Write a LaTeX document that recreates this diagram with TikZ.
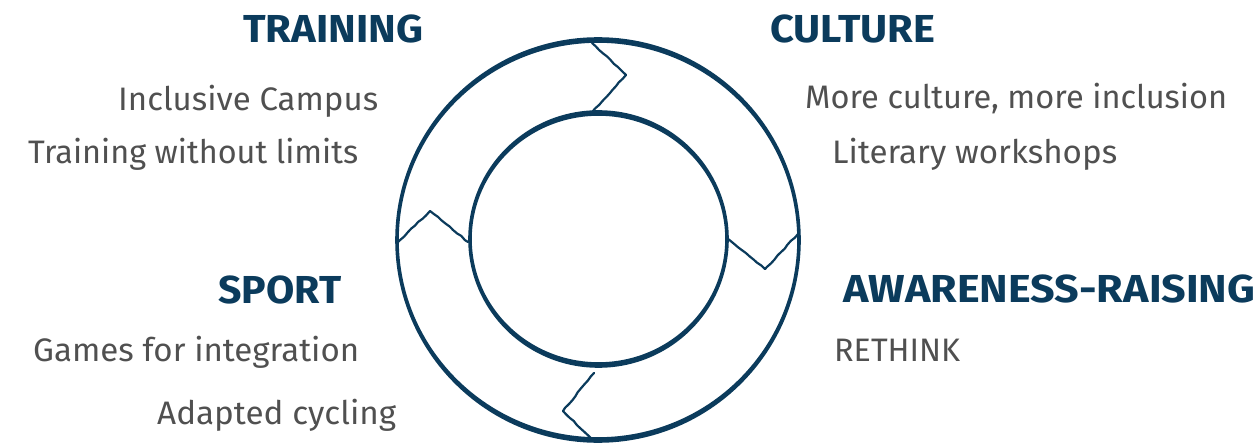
\documentclass[tikz,border=0pt]{standalone}
\usepackage{fontspec}
\setmainfont{Fira Sans}
\usetikzlibrary{decorations.pathmorphing}
\definecolor{ringblue}{HTML}{0B3B5C}
\definecolor{bodygray}{HTML}{505050}
% scale a label horizontally to a given width, keeping its height
\newcommand\fitto[2]{\resizebox{#1}{\height}{#2}}
\begin{document}
\begin{tikzpicture}[x=1pt,y=-1pt,
  heading/.style={anchor=base west, inner sep=0pt, text=ringblue,
    font=\bfseries\fontsize{39}{39}\selectfont},
  item/.style={anchor=base west, inner sep=0pt, text=bodygray,
    font=\fontsize{32.5}{32.5}\selectfont},
  joint/.style={draw=ringblue, line width=2.2pt, line join=round, line cap=round,
    decorate, decoration={random steps, segment length=5pt, amplitude=0.5pt}}]
\useasboundingbox (0,0) rectangle (1259,444);
\pgfmathsetseed{7}

% ring: two brushed circles, thicker at top and bottom
\fill[ringblue, even odd rule]
  (598,240) ellipse [x radius=202.8pt, y radius=202.8pt]
  (598,240) ellipse [x radius=199.2pt, y radius=197.2pt];
\fill[ringblue, even odd rule]
  (598.5,239) ellipse [x radius=130.3pt, y radius=128.8pt]
  (598.5,239) ellipse [x radius=126.7pt, y radius=123.2pt];

% chevron joints between the four clockwise arrows
\coordinate (topO) at (592,43);  \coordinate (topT) at (626,75);  \coordinate (topI) at (593,111);
\coordinate (lftO) at (397,243); \coordinate (lftT) at (430,211); \coordinate (lftI) at (468,242);
\coordinate (rgtO) at (798,234); \coordinate (rgtT) at (765,269); \coordinate (rgtI) at (728,239);
\coordinate (botI) at (594,373); \coordinate (botT) at (563,411); \coordinate (botO) at (595,442);
\draw[joint] (topO) -- (topT) -- (topI);
\draw[joint] (lftO) -- (lftT) -- (lftI);
\draw[joint] (rgtO) -- (rgtT) -- (rgtI);
\draw[joint] (botI) -- (botT) -- (botO);

% headings
\node[heading] (training) at (243,43)  {\fitto{180pt}{TRAINING}};
\node[heading] (culture)  at (770,43)  {\fitto{165pt}{CULTURE}};
\node[heading] (sport)    at (218,303) {\fitto{123pt}{SPORT}};
\node[heading] (aware)    at (843,302) {\fitto{412pt}{AWARENESS-RAISING}};

% activities
\node[item] (campus)   at (118,111) {\fitto{260pt}{Inclusive Campus}};
\node[item] (limits)   at (28,163)  {\fitto{330pt}{Training without limits}};
\node[item] (moreinc)  at (805,109) {\fitto{422pt}{More culture, more inclusion}};
\node[item] (literary) at (832,163) {\fitto{285pt}{Literary workshops}};
\node[item] (games)    at (33,361)  {\fitto{326pt}{Games for integration}};
\node[item] (rethink)  at (834,361) {\fitto{126pt}{RETHINK}};
\node[item] (cycling)  at (157,424) {\fitto{239pt}{Adapted cycling}};
\end{tikzpicture}
\end{document}
